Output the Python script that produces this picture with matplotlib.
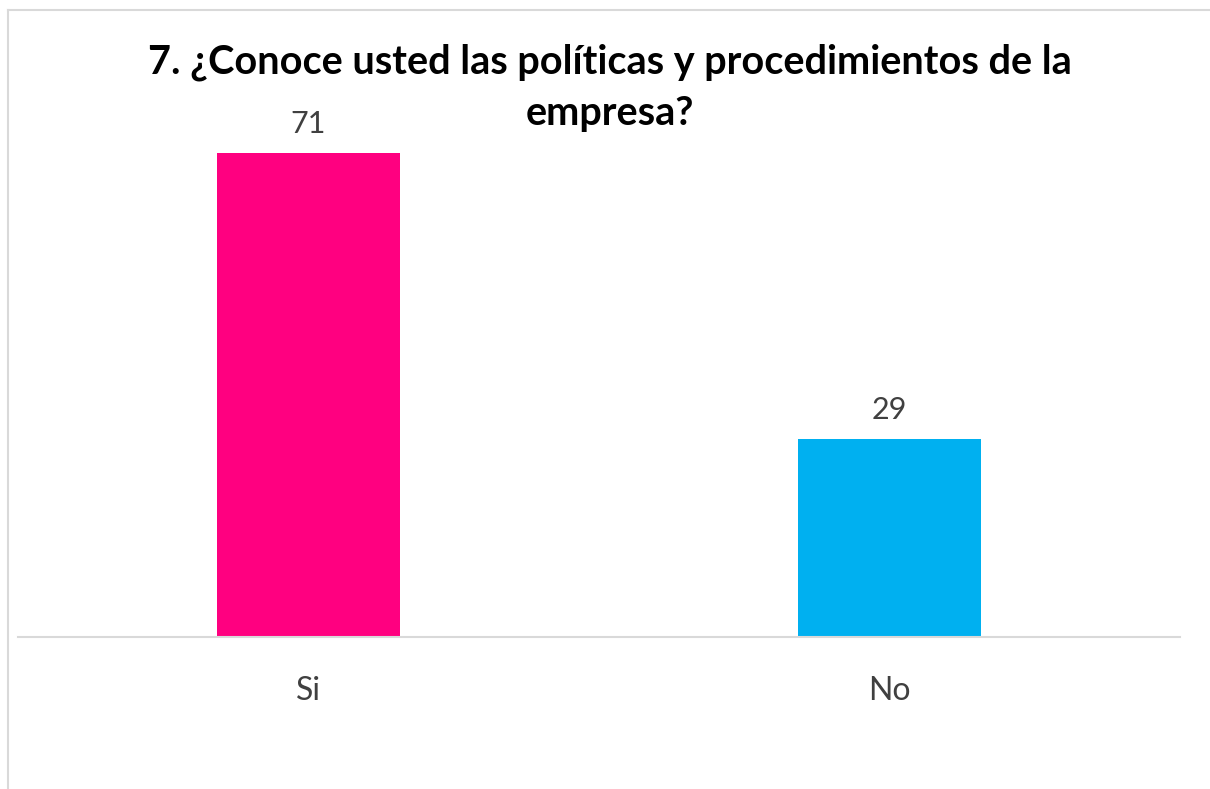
import matplotlib
matplotlib.use("Agg")
import matplotlib.pyplot as plt
from matplotlib.lines import Line2D

# Datos del gráfico
categorias = ["Si", "No"]
valores = [71, 29]
colores = ["#FF0080", "#00B0F0"]
titulo_lineas = ["7. ¿Conoce usted las políticas y procedimientos de la", "empresa?"]

plt.rcParams['font.family'] = ['Lato', 'DejaVu Sans']

fig = plt.figure(figsize=(12.1, 7.89), dpi=100)
ax = fig.add_axes([18 / 1210, 152 / 789, 1162 / 1210, 545.4 / 789])

x = range(len(categorias))
barras = ax.bar(x, valores, width=0.315, color=colores)

# Etiquetas de valor
for xi, v in zip(x, valores):
    ax.text(xi, v + 2.2, str(v), ha='center', va='bottom', fontsize=22, color='#404040')

ax.set_xlim(-0.5, 1.5)
ax.set_ylim(0, 80)
ax.set_xticks(list(x))
ax.set_xticklabels(categorias, fontsize=23, color='#404040')
ax.tick_params(axis='x', length=0, pad=28)
ax.set_yticks([])

for lado in ['top', 'right', 'left']:
    ax.spines[lado].set_visible(False)
ax.spines['bottom'].set_color('#d9d9d9')
ax.spines['bottom'].set_linewidth(1.5)

# Título (dos líneas)
for texto, ypix in zip(titulo_lineas, [62, 113]):
    fig.text(610 / 1210, 1 - ypix / 789, texto, ha='center', va='center',
             fontsize=28.5, fontweight='bold', color='black')

# Borde del área del gráfico
fig.add_artist(Line2D([8 / 1210, 8 / 1210], [0, 1 - 10 / 789], color='#d9d9d9', lw=1.5))
fig.add_artist(Line2D([8 / 1210, 1], [1 - 10 / 789, 1 - 10 / 789], color='#d9d9d9', lw=1.5))

fig.savefig("out.png", dpi=100, facecolor='white')
